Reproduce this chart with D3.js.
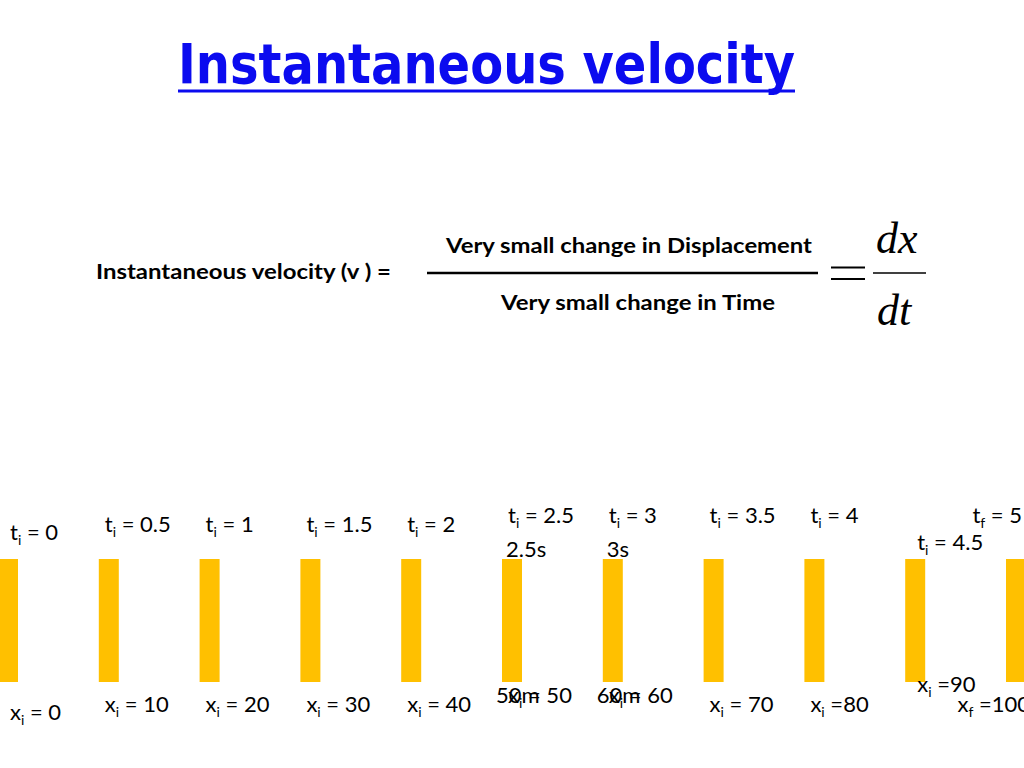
<!DOCTYPE html>
<html>
<head>
<meta charset="utf-8">
<script src="https://cdn.jsdelivr.net/npm/d3@7"></script>
<style>
  html, body { margin: 0; padding: 0; background: #fff; }
  svg { display: block; }
</style>
</head>
<body>
<div id="chart"></div>
<script>
// ---- data ----
const titleText = "Instantaneous velocity";
const lhsText = "Instantaneous velocity (v ) =";
const numeratorText = "Very small change in Displacement";
const denominatorText = "Very small change in Time";
const derivNum = "dx";
const derivDen = "dt";

const times = [0, 0.5, 1, 1.5, 2, 2.5, 3, 3.5, 4, 4.5, 5];
const positions = [0, 10, 20, 30, 40, 50, 60, 70, 80, 90, 100];
const timeSubs = ["i", "i", "i", "i", "i", "i", "i", "i", "i", "i", "f"];
const timeTexts = [" = 0", " = 0.5", " = 1", " = 1.5", " = 2", " = 2.5", " = 3", " = 3.5", " = 4", " = 4.5", " = 5"];
const posSubs = ["i", "i", "i", "i", "i", "i", "i", "i", "i", "i", "f"];
const posTexts = [" = 0", " = 10", " = 20", " = 30", " = 40", " = 50", " = 60", " = 70", " =80", " =90", " =100"];
const extraTimeNotes = [{ pos: 50, text: "2.5s" }, { pos: 60, text: "3s" }];
const extraPosNotes = [{ pos: 50, text: "50m" }, { pos: 60, text: "60m" }];

// ---- layout ----
const W = 1024, H = 768;
const svg = d3.select("#chart").append("svg").attr("width", W).attr("height", H);
svg.append("rect").attr("width", W).attr("height", H).attr("fill", "#fff");

const labelFont = "Lato, 'Open Sans', sans-serif";
const fs = 22, subFs = 14;

// Title
svg.append("text")
  .attr("x", 178).attr("y", 83)
  .attr("font-family", "'Comic Sans MS', 'DejaVu Sans', sans-serif")
  .attr("font-weight", "bold")
  .attr("font-size", 56)
  .attr("fill", "#0b0bef")
  .attr("textLength", 617).attr("lengthAdjust", "spacingAndGlyphs")
  .text(titleText);
svg.append("line")
  .attr("x1", 178).attr("x2", 795).attr("y1", 91).attr("y2", 91)
  .attr("stroke", "#0b0bef").attr("stroke-width", 3);

// Equation
svg.append("text")
  .attr("x", 96).attr("y", 279)
  .attr("font-family", labelFont).attr("font-weight", "bold").attr("font-size", 20)
  .attr("textLength", 295).attr("lengthAdjust", "spacingAndGlyphs")
  .text(lhsText);
svg.append("line").attr("x1", 427).attr("x2", 818).attr("y1", 273).attr("y2", 273)
  .attr("stroke", "#000").attr("stroke-width", 2.5);
svg.append("text")
  .attr("x", 446).attr("y", 253)
  .attr("font-family", labelFont).attr("font-weight", "bold").attr("font-size", 20)
  .attr("textLength", 366).attr("lengthAdjust", "spacingAndGlyphs")
  .text(numeratorText);
svg.append("text")
  .attr("x", 501).attr("y", 310)
  .attr("font-family", labelFont).attr("font-weight", "bold").attr("font-size", 20)
  .attr("textLength", 274).attr("lengthAdjust", "spacingAndGlyphs")
  .text(denominatorText);
// "=" sign
svg.append("line").attr("x1", 831).attr("x2", 865).attr("y1", 267.5).attr("y2", 267.5)
  .attr("stroke", "#000").attr("stroke-width", 1.8);
svg.append("line").attr("x1", 831).attr("x2", 865).attr("y1", 279).attr("y2", 279)
  .attr("stroke", "#000").attr("stroke-width", 1.8);
// dx/dt
svg.append("text")
  .attr("x", 876).attr("y", 253)
  .attr("font-family", "'Liberation Serif', 'Times New Roman', serif")
  .attr("font-style", "italic").attr("font-size", 44)
  .text(derivNum);
svg.append("line").attr("x1", 873).attr("x2", 926).attr("y1", 273).attr("y2", 273)
  .attr("stroke", "#000").attr("stroke-width", 1.6);
svg.append("text")
  .attr("x", 877).attr("y", 325)
  .attr("font-family", "'Liberation Serif', 'Times New Roman', serif")
  .attr("font-style", "italic").attr("font-size", 44)
  .text(derivDen);

// Bars: positions along a linear scale
const x = d3.scaleLinear().domain([0, 100]).range([8, 1016]);
const barW = 20, barTop = 559, barH = 123;

const items = positions.map((p, i) => ({
  pos: p, t: times[i], tSub: timeSubs[i], tText: timeTexts[i],
  xSub: posSubs[i], xText: posTexts[i], i
}));

svg.append("g").selectAll("rect").data(items).join("rect")
  .attr("x", d => x(d.pos) - barW / 2)
  .attr("y", barTop)
  .attr("width", barW)
  .attr("height", barH)
  .attr("fill", "#ffc000");

const n = items.length;
function addLabel(g, letter, sub, rest, xpos, ypos, anchor) {
  const t = g.append("text")
    .attr("x", xpos).attr("y", ypos)
    .attr("font-family", labelFont).attr("font-size", fs)
    .attr("fill", "#000")
    .attr("text-anchor", anchor || "start");
  t.append("tspan").text(letter);
  t.append("tspan").attr("font-size", subFs).attr("dy", 5).text(sub);
  t.append("tspan").attr("dy", -5).text(rest);
  return t;
}

const tg = svg.append("g");
items.forEach(d => {
  let lx = x(d.pos) - 4, ly = barTop - 27, anchor = "start";
  if (d.i === 0) { lx = x(d.pos) + 2; ly = barTop - 19; }
  if (d.i === n - 1) { lx = W - 2; ly = barTop - 36; anchor = "end"; }
  else if (d.i === n - 2) { lx = x(d.pos) + 2; ly = barTop - 9; }
  else if (d.t >= 2.5) { ly = barTop - 36; }
  addLabel(tg, "t", d.tSub, d.tText, lx, ly, anchor);
});

const xg = svg.append("g");
items.forEach(d => {
  let lx = x(d.pos) - 4, ly = barTop + barH + 30, anchor = "start";
  if (d.i === 0) { lx = x(d.pos) + 2; ly = barTop + barH + 38; }
  if (d.i === n - 1) { lx = x(d.pos) + 14; ly = barTop + barH + 30; anchor = "end"; }
  else if (d.i === n - 2) { lx = x(d.pos) + 2; ly = barTop + barH + 10; }
  else if (d.pos === 50 || d.pos === 60) { ly = barTop + barH + 21; }
  addLabel(xg, "x", d.xSub, d.xText, lx, ly, anchor);
});

// extra overlapping notes
svg.append("g").selectAll("text").data(extraTimeNotes).join("text")
  .attr("x", d => x(d.pos) - 6).attr("y", barTop - 2)
  .attr("font-family", labelFont).attr("font-size", fs)
  .text(d => d.text);
svg.append("g").selectAll("text").data(extraPosNotes).join("text")
  .attr("x", d => x(d.pos) - 16).attr("y", barTop + barH + 21)
  .attr("font-family", labelFont).attr("font-size", fs)
  .text(d => d.text);
</script>
</body>
</html>
